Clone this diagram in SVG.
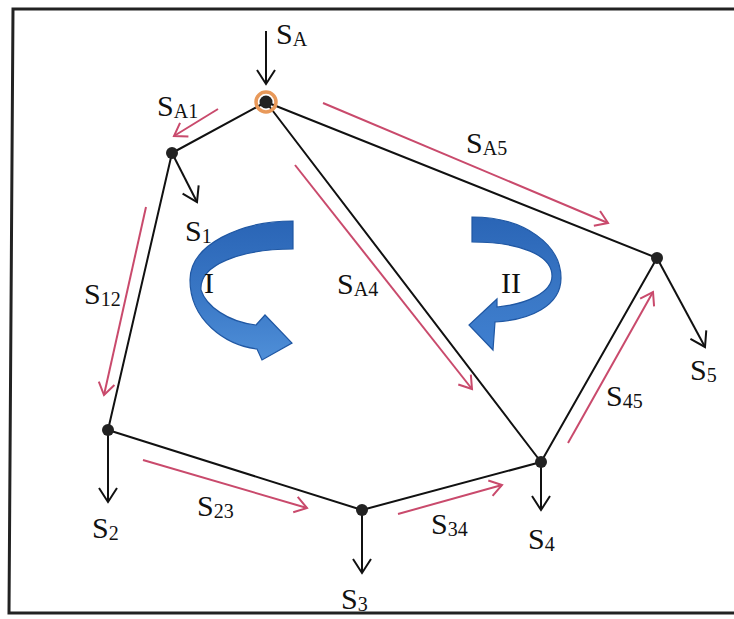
<svg xmlns="http://www.w3.org/2000/svg" width="734" height="619" viewBox="0 0 734 619">
<style>
.edge{stroke:#111;stroke-width:2;fill:none;stroke-linecap:round}
.out{stroke:#111;stroke-width:2;fill:none;marker-end:url(#hb)}
.flow{stroke:#c94a6c;stroke-width:2;fill:none;marker-end:url(#hr)}
.dot{fill:#222}
.lbl{font-family:"Liberation Serif","DejaVu Serif",serif;font-size:30px;fill:#111}
.sub{font-size:20px}
.rot{font-family:"Liberation Serif","DejaVu Serif",serif;font-size:30px;fill:#111}
.blue{stroke:#1f57a3;stroke-width:1.2}
</style>
<defs>
<marker id="hb" markerUnits="userSpaceOnUse" markerWidth="30" markerHeight="30" refX="15" refY="15" orient="auto" viewBox="0 0 30 30" overflow="visible">
<path d="M1,6 L15,15 L1,24" fill="none" stroke="#111" stroke-width="2"/>
</marker>
<marker id="hr" markerUnits="userSpaceOnUse" markerWidth="30" markerHeight="30" refX="15" refY="15" orient="auto" viewBox="0 0 30 30" overflow="visible">
<path d="M3,7 L15,15 L3,23" fill="none" stroke="#c94a6c" stroke-width="2"/>
</marker>
<linearGradient id="gI" x1="0" y1="0" x2="0" y2="1">
<stop offset="0" stop-color="#2a65b6"/>
<stop offset="0.55" stop-color="#3a78c6"/>
<stop offset="1" stop-color="#4f8fd8"/>
</linearGradient>
<linearGradient id="gII" x1="0" y1="0" x2="0" y2="1">
<stop offset="0" stop-color="#2a65b6"/>
<stop offset="0.6" stop-color="#3a78c6"/>
<stop offset="1" stop-color="#3f7fd0"/>
</linearGradient>
</defs>
<rect width="734" height="619" fill="#fff"/>
<path d="M734,9 L13,9 L9,613 L734,613" fill="none" stroke="#222" stroke-width="3"/>

<g id="connectors">
<line class="edge" x1="266" y1="102" x2="172" y2="153"/>
<line class="edge" x1="266" y1="102" x2="657" y2="258"/>
<line class="edge" x1="266" y1="102" x2="541" y2="462"/>
<line class="edge" x1="172" y1="153" x2="108" y2="430"/>
<line class="edge" x1="108" y1="430" x2="362" y2="510"/>
<line class="edge" x1="362" y1="510" x2="541" y2="462"/>
<line class="edge" x1="541" y1="462" x2="657" y2="258"/>
<line class="out" x1="266" y1="31" x2="266" y2="84"/>
<line class="out" x1="172" y1="153" x2="197" y2="202"/>
<line class="out" x1="108" y1="430" x2="108" y2="502"/>
<line class="out" x1="362" y1="510" x2="362" y2="573"/>
<line class="out" x1="541" y1="462" x2="541" y2="510"/>
<line class="out" x1="657" y1="258" x2="705" y2="347"/>
<line class="flow" x1="218" y1="109" x2="174" y2="136"/>
<line class="flow" x1="323" y1="103" x2="608" y2="223"/>
<line class="flow" x1="295" y1="165" x2="472" y2="389"/>
<line class="flow" x1="146" y1="207" x2="104" y2="395"/>
<line class="flow" x1="143" y1="460" x2="307" y2="508"/>
<line class="flow" x1="398" y1="514" x2="502" y2="485"/>
<line class="flow" x1="568" y1="443" x2="653" y2="292"/>
</g>

<g id="loopI">
<path class="blue" fill="url(#gI)" d="M293,221 C240,221 190,245 190,280 C190,320 225,345 257,349 L262,360 L292,343 L265,315 L256,325 C228,322 206,306 201,290 C199,265 240,249 293,249 Z"/>
<text class="rot" x="204" y="293">I</text>
</g>
<g id="loopII">
<path class="blue" fill="url(#gII)" d="M472,217 C525,217 561,245 561,278 C561,306 530,320 495,322 L493,350 L469,325 L497,299 L497,307 C528,304 552,292 552,276 C552,255 520,242 472,242 Z"/>
<text class="rot" x="501" y="293">II</text>
</g>

<g id="nodeA">
<circle cx="266" cy="102" r="10" fill="none" stroke="#e8995a" stroke-width="3.5"/>
<circle class="dot" cx="266" cy="102" r="6.5"/>
<text class="lbl" x="276" y="44">S<tspan class="sub" dy="2">A</tspan></text>
</g>
<g id="node1">
<circle class="dot" cx="172" cy="153" r="6"/>
<text class="lbl" x="185" y="241">S<tspan class="sub" dy="2">1</tspan></text>
</g>
<g id="node2">
<circle class="dot" cx="108" cy="430" r="6"/>
<text class="lbl" x="92" y="538">S<tspan class="sub" dy="2">2</tspan></text>
</g>
<g id="node3">
<circle class="dot" cx="362" cy="510" r="6"/>
<text class="lbl" x="341" y="609">S<tspan class="sub" dy="2">3</tspan></text>
</g>
<g id="node4">
<circle class="dot" cx="541" cy="462" r="6"/>
<text class="lbl" x="528" y="549">S<tspan class="sub" dy="2">4</tspan></text>
</g>
<g id="node5">
<circle class="dot" cx="657" cy="258" r="6"/>
<text class="lbl" x="690" y="380">S<tspan class="sub" dy="2">5</tspan></text>
</g>

<g id="flowLabels">
<text class="lbl" x="157" y="116">S<tspan class="sub" dy="2">A1</tspan></text>
<text class="lbl" x="466" y="153">S<tspan class="sub" dy="2">A5</tspan></text>
<text class="lbl" x="337" y="294">S<tspan class="sub" dy="2">A4</tspan></text>
<text class="lbl" x="84" y="304">S<tspan class="sub" dy="2">12</tspan></text>
<text class="lbl" x="197" y="516">S<tspan class="sub" dy="2">23</tspan></text>
<text class="lbl" x="431" y="534">S<tspan class="sub" dy="2">34</tspan></text>
<text class="lbl" x="606" y="406">S<tspan class="sub" dy="2">45</tspan></text>
</g>
</svg>
